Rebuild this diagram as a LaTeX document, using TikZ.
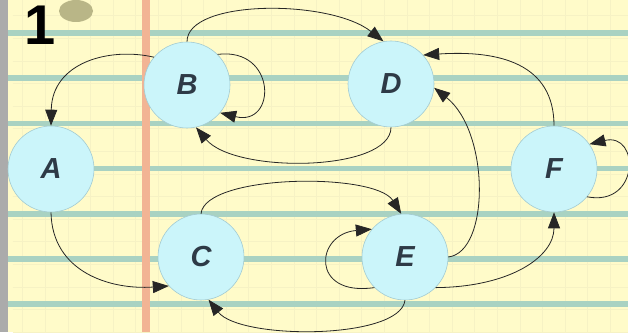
\documentclass[tikz,border=0pt]{standalone}
\usepackage{amsmath, amssymb}
\usepackage{fontspec}
\setsansfont{Liberation Sans}
\usepackage{tikz}
\usetikzlibrary{positioning, arrows.meta, calc}

\definecolor{paper}{HTML}{FFFBC9}
\definecolor{ruling}{HTML}{A9D2C2}
\definecolor{margin}{HTML}{F2B494}
\definecolor{faint}{HTML}{F6F2C4}
\definecolor{bubble}{HTML}{CBF5FA}
\definecolor{rim}{HTML}{A3CBD2}
\definecolor{ink}{HTML}{2E3A46}

\begin{document}
\begin{tikzpicture}[x=1pt, y=1pt, >={Triangle[length=16pt, width=12pt]},
    state/.style={circle, draw=rim, line width=0.6pt, fill=bubble,
        minimum size=86pt, inner sep=0pt,
        font=\sffamily\bfseries\itshape\fontsize{29}{29}\selectfont, text=ink},
    edge/.style={->, line width=0.8pt, black!85}]
    \useasboundingbox (0,0) rectangle (628,332);
    \clip (0,0) rectangle (628,332);
    % notebook paper
    \fill[paper] (0,0) rectangle (628,332);
    \draw[faint, line width=0.5pt, step=22.6] (12.5,-2.2) grid (628,332);
    \foreach \y in {33, 78.2, 123.4, 168.6, 213.8, 259, 304.2}
        \draw[ruling, line width=5.5pt] (0,332-\y) -- (628,332-\y);
    \fill[margin] (142,0) rectangle (150,332);
    \fill[black!33] (0,0) rectangle (8,332);
    % page number and blot
    \node[anchor=base west, inner sep=0pt, font=\sffamily\bfseries\fontsize{56}{56}\selectfont]
        (num) at (24,287) {1};
    \fill[black!40!olive!45] (76,321) ellipse (17 and 11);

    % states
    \node[state] (A) at (51,163) {A};
    \node[state] (B) at (187,247) {B};
    \node[state] (C) at (201,75) {C};
    \node[state] (D) at (391,248) {D};
    \node[state] (E) at (405,75) {E};
    \node[state] (F) at (554,163) {F};

    % transitions
    \draw[edge] (B.140) .. controls (110,285) and (52,270) .. (A.north);
    \draw[edge] (B.45) .. controls (277,285) and (277,205) .. (B.-40);
    \draw[edge] (B.north) .. controls (187,333) and (330,333) .. (D.100);
    \draw[edge] (D.south) .. controls (391,160) and (235,158) .. (B.-78);
    \draw[edge] (F.north) .. controls (554,268) and (500,282) .. (D.42);
    \draw[edge] (E.east) .. controls (490,80) and (490,200) .. (D.-5);
    \draw[edge] (F.-40) .. controls (640,125) and (640,200) .. (F.35);
    \draw[edge] (C.north) .. controls (205,158) and (375,160) .. (E.95);
    \draw[edge] (E.-135) .. controls (310,35) and (315,98) .. (E.140);
    \draw[edge] (E.-45) .. controls (510,45) and (554,75) .. (F.south);
    \draw[edge] (E.south) .. controls (400,-8) and (240,-8) .. (C.-80);
    \draw[edge] (A.south) .. controls (52,60) and (110,42) .. (C.-138);
\end{tikzpicture}
\end{document}
